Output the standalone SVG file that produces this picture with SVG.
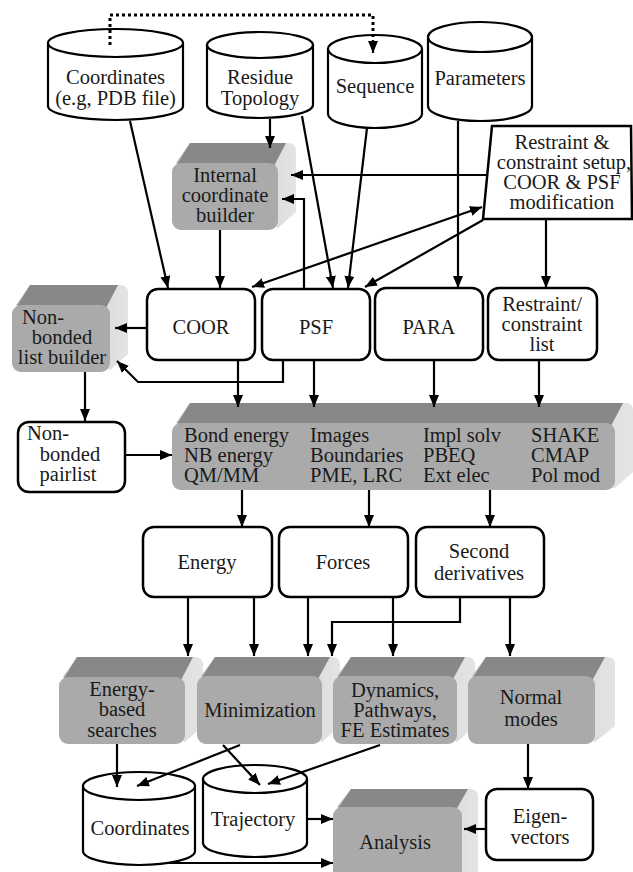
<svg xmlns="http://www.w3.org/2000/svg" width="633" height="872" viewBox="0 0 633 872">
<defs>
<style>
text{font-family:"Liberation Serif","Times New Roman",serif;font-size:20.5px;fill:#1a1a1a;text-anchor:middle}
.l{text-anchor:start}
.w{fill:#fff;stroke:#000;stroke-width:2.5}
.cyl{fill:#fff;stroke:#000;stroke-width:2.2}
.front{fill:#aaaaaa}
.top{fill:#888888}
.side{fill:url(#sg)}
.c{fill:none;stroke:#000;stroke-width:2.2;marker-end:url(#ah)}
</style>
<linearGradient id="sg" x1="0" y1="0" x2="1" y2="0">
<stop offset="0" stop-color="#bdbdbd"/>
<stop offset="1" stop-color="#e4e4e4"/>
</linearGradient>
<marker id="ah" viewBox="0 0 12 10" refX="12" refY="5" markerWidth="12" markerHeight="10" markerUnits="userSpaceOnUse" orient="auto-start-reverse">
<path d="M0,0 L12,5 L0,10 Z" fill="#000"/>
</marker>
</defs>
<rect width="633" height="872" fill="#fff"/>

<g id="coordinates-in">
<path class="cyl" d="M48,43 L48,106 A67.5,14 0 0 0 183,106 L183,43"/>
<ellipse class="cyl" cx="115.5" cy="43" rx="67.5" ry="14"/>
<text x="115.5" y="84">Coordinates</text>
<text x="115.5" y="105">(e.g, PDB file)</text>
</g>

<g id="residue-topology">
<path class="cyl" d="M207,45 L207,105 A53,13 0 0 0 313,105 L313,45"/>
<ellipse class="cyl" cx="260" cy="45" rx="53" ry="13"/>
<text x="260" y="84">Residue</text>
<text x="260" y="105">Topology</text>
</g>

<g id="sequence">
<path class="cyl" d="M328,49 L328,114 A47,14 0 0 0 422,114 L422,49"/>
<ellipse class="cyl" cx="375" cy="49" rx="47" ry="14"/>
<text x="375" y="93">Sequence</text>
</g>

<g id="parameters">
<path class="cyl" d="M428,37 L428,106 A52,15 0 0 0 532,106 L532,37"/>
<ellipse class="cyl" cx="480" cy="37" rx="52" ry="15"/>
<text x="480" y="85">Parameters</text>
</g>

<g id="restraint-setup">
<polygon points="492,126 631,126 632,219 483,219" fill="#fff" stroke="#000" stroke-width="2.5"/>
<text x="562" y="149">Restraint &amp;</text>
<text x="564" y="169">constraint setup,</text>
<text x="562" y="189">COOR &amp; PSF</text>
<text x="562" y="209">modification</text>
</g>

<g id="internal-coordinate-builder">
<path class="side" d="M176,163 L190,143 L288,143 Q296,143 296,151 L296,212 L278,228 Z"/>
<path class="top" d="M176,166 L190,143 L286,143 L274,166 Z"/>
<rect class="front" x="172" y="163" width="106" height="67" rx="9"/>
<text x="225" y="182">Internal</text>
<text x="225" y="202">coordinate</text>
<text x="225" y="222">builder</text>
</g>

<g id="nonbonded-list-builder">
<path class="side" d="M16,305 L30,285 L120,285 Q128,285 128,293 L128,354 L110,370 Z"/>
<path class="top" d="M16,308 L30,285 L118,285 L106,308 Z"/>
<rect class="front" x="12" y="305" width="98" height="67" rx="9"/>
<text x="43" y="324">Non-</text>
<text x="62" y="344">bonded</text>
<text x="62" y="364">list builder</text>
</g>

<g id="coor">
<rect class="w" x="147" y="289" width="108" height="71" rx="11"/>
<text x="201" y="334">COOR</text>
</g>

<g id="psf">
<rect class="w" x="262" y="289" width="108" height="71" rx="11"/>
<text x="316" y="334">PSF</text>
</g>

<g id="para">
<rect class="w" x="375" y="288" width="108" height="72" rx="11"/>
<text x="429" y="334">PARA</text>
</g>

<g id="restraint-list">
<rect class="w" x="488" y="288" width="109" height="72" rx="11"/>
<text x="542" y="311">Restraint/</text>
<text x="542" y="331">constraint</text>
<text x="542" y="351">list</text>
</g>

<g id="nonbonded-pairlist">
<rect class="w" x="18" y="422" width="107" height="70" rx="11"/>
<text x="48" y="440">Non-</text>
<text x="70" y="461">bonded</text>
<text x="68" y="481">pairlist</text>
</g>

<g id="energy-terms">
<path class="side" d="M176,423 L190,403 L625,403 Q633,403 633,411 L633,472 L615,488 Z"/>
<path class="top" d="M176,426 L190,403 L623,403 L611,426 Z"/>
<rect class="front" x="172" y="423" width="443" height="67" rx="9"/>
<text class="l" x="184" y="442">Bond energy</text>
<text class="l" x="184" y="462">NB energy</text>
<text class="l" x="184" y="482">QM/MM</text>
<text class="l" x="310" y="442">Images</text>
<text class="l" x="310" y="462">Boundaries</text>
<text class="l" x="310" y="482">PME, LRC</text>
<text class="l" x="423" y="442">Impl solv</text>
<text class="l" x="423" y="462">PBEQ</text>
<text class="l" x="423" y="482">Ext elec</text>
<text class="l" x="531" y="442">SHAKE</text>
<text class="l" x="531" y="462">CMAP</text>
<text class="l" x="531" y="482">Pol mod</text>
</g>

<g id="energy">
<rect class="w" x="143" y="527" width="129" height="70" rx="11"/>
<text x="207" y="569">Energy</text>
</g>

<g id="forces">
<rect class="w" x="279" y="527" width="129" height="70" rx="11"/>
<text x="343" y="569">Forces</text>
</g>

<g id="second-derivatives">
<rect class="w" x="416" y="527" width="128" height="70" rx="11"/>
<text x="479" y="558">Second</text>
<text x="479" y="580">derivatives</text>
</g>

<g id="energy-based-searches">
<path class="side" d="M63,677 L77,657 L195,657 Q203,657 203,665 L203,726 L185,742 Z"/>
<path class="top" d="M63,680 L77,657 L193,657 L181,680 Z"/>
<rect class="front" x="59" y="677" width="126" height="67" rx="9"/>
<text x="122" y="696">Energy-</text>
<text x="122" y="716">based</text>
<text x="122" y="737">searches</text>
</g>

<g id="minimization">
<path class="side" d="M201,676 L215,657 L332,657 Q340,657 340,665 L340,726 L322,742 Z"/>
<path class="top" d="M201,679 L215,657 L330,657 L318,679 Z"/>
<rect class="front" x="197" y="676" width="125" height="68" rx="9"/>
<text x="260" y="717">Minimization</text>
</g>

<g id="dynamics">
<path class="side" d="M337,676 L351,657 L467,657 Q475,657 475,665 L475,726 L457,742 Z"/>
<path class="top" d="M337,679 L351,657 L465,657 L453,679 Z"/>
<rect class="front" x="333" y="676" width="124" height="68" rx="9"/>
<text x="395" y="697">Dynamics,</text>
<text x="395" y="717">Pathways,</text>
<text x="395" y="737">FE Estimates</text>
</g>

<g id="normal-modes">
<path class="side" d="M472,676 L486,657 L607,657 Q615,657 615,665 L615,726 L595,742 Z"/>
<path class="top" d="M472,679 L486,657 L605,657 L593,679 Z"/>
<rect class="front" x="468" y="676" width="127" height="68" rx="9"/>
<text x="531" y="704">Normal</text>
<text x="531" y="726">modes</text>
</g>

<g id="coordinates-out">
<path class="cyl" d="M83,786 L83,851 A56,14 0 0 0 195,851 L195,786"/>
<ellipse class="cyl" cx="139" cy="786" rx="56" ry="14"/>
<text x="140" y="835">Coordinates</text>
</g>

<g id="trajectory">
<path class="cyl" d="M203,779 L203,843 A52,14 0 0 0 307,843 L307,779"/>
<ellipse class="cyl" cx="255" cy="779" rx="52" ry="14"/>
<text x="253" y="826">Trajectory</text>
</g>

<g id="analysis">
<path class="side" d="M337,807 L351,789 L470,789 Q478,789 478,797 L478,872 L462,872 Z"/>
<path class="top" d="M337,810 L351,789 L468,789 L456,810 Z"/>
<rect class="front" x="333" y="807" width="129" height="80" rx="9"/>
<text x="395" y="849">Analysis</text>
</g>

<g id="eigenvectors">
<rect class="w" x="486" y="789" width="107" height="71" rx="11"/>
<text x="540" y="823">Eigen-</text>
<text x="540" y="844">vectors</text>
</g>

<g id="connectors">
<path d="M110,45 L110,15 L373,15 L373,40" fill="none" stroke="#000" stroke-width="3" stroke-dasharray="3,3"/>
<path class="c" d="M373,40 L373,53"/>
<path class="c" d="M130,121 L168,288"/>
<path class="c" d="M270,119 L270,148"/>
<path class="c" d="M302,116 L333,288"/>
<path class="c" d="M367,128 L348,288"/>
<path class="c" d="M458,121 L458,288"/>
<path class="c" d="M488,175 L291,175"/>
<path class="c" d="M304,289 L304,199 L282,199"/>
<path class="c" d="M220,230 L220,288"/>
<path class="c" d="M252,287 L482,207" style="marker-start:url(#ah)"/>
<path class="c" d="M483,220 L365,287"/>
<path class="c" d="M546,220 L546,288"/>
<path class="c" d="M147,328 L115,328"/>
<path class="c" d="M283,360 L283,382 L138,382 L117,361"/>
<path class="c" d="M238,360 L238,407"/>
<path class="c" d="M314,360 L314,407"/>
<path class="c" d="M434,360 L434,407"/>
<path class="c" d="M539,360 L539,407"/>
<path class="c" d="M85,372 L85,421"/>
<path class="c" d="M125,455 L172,455"/>
<path class="c" d="M242,490 L242,527"/>
<path class="c" d="M369,490 L369,527"/>
<path class="c" d="M490,490 L490,527"/>
<path class="c" d="M188,597 L188,656"/>
<path class="c" d="M254,597 L254,656"/>
<path class="c" d="M308,597 L308,656"/>
<path class="c" d="M460,597 L460,622 L332,622 L332,656"/>
<path class="c" d="M393,597 L393,656"/>
<path class="c" d="M510,597 L510,656"/>
<path class="c" d="M117,744 L117,787"/>
<path class="c" d="M240,745 L137,786"/>
<path class="c" d="M223,745 L260,785"/>
<path class="c" d="M380,745 L268,784"/>
<path class="c" d="M307,819 L333,819"/>
<path class="c" d="M168,863 L333,863"/>
<path class="c" d="M528,744 L528,789"/>
<path class="c" d="M486,829 L464,829"/>
</g>
</svg>
